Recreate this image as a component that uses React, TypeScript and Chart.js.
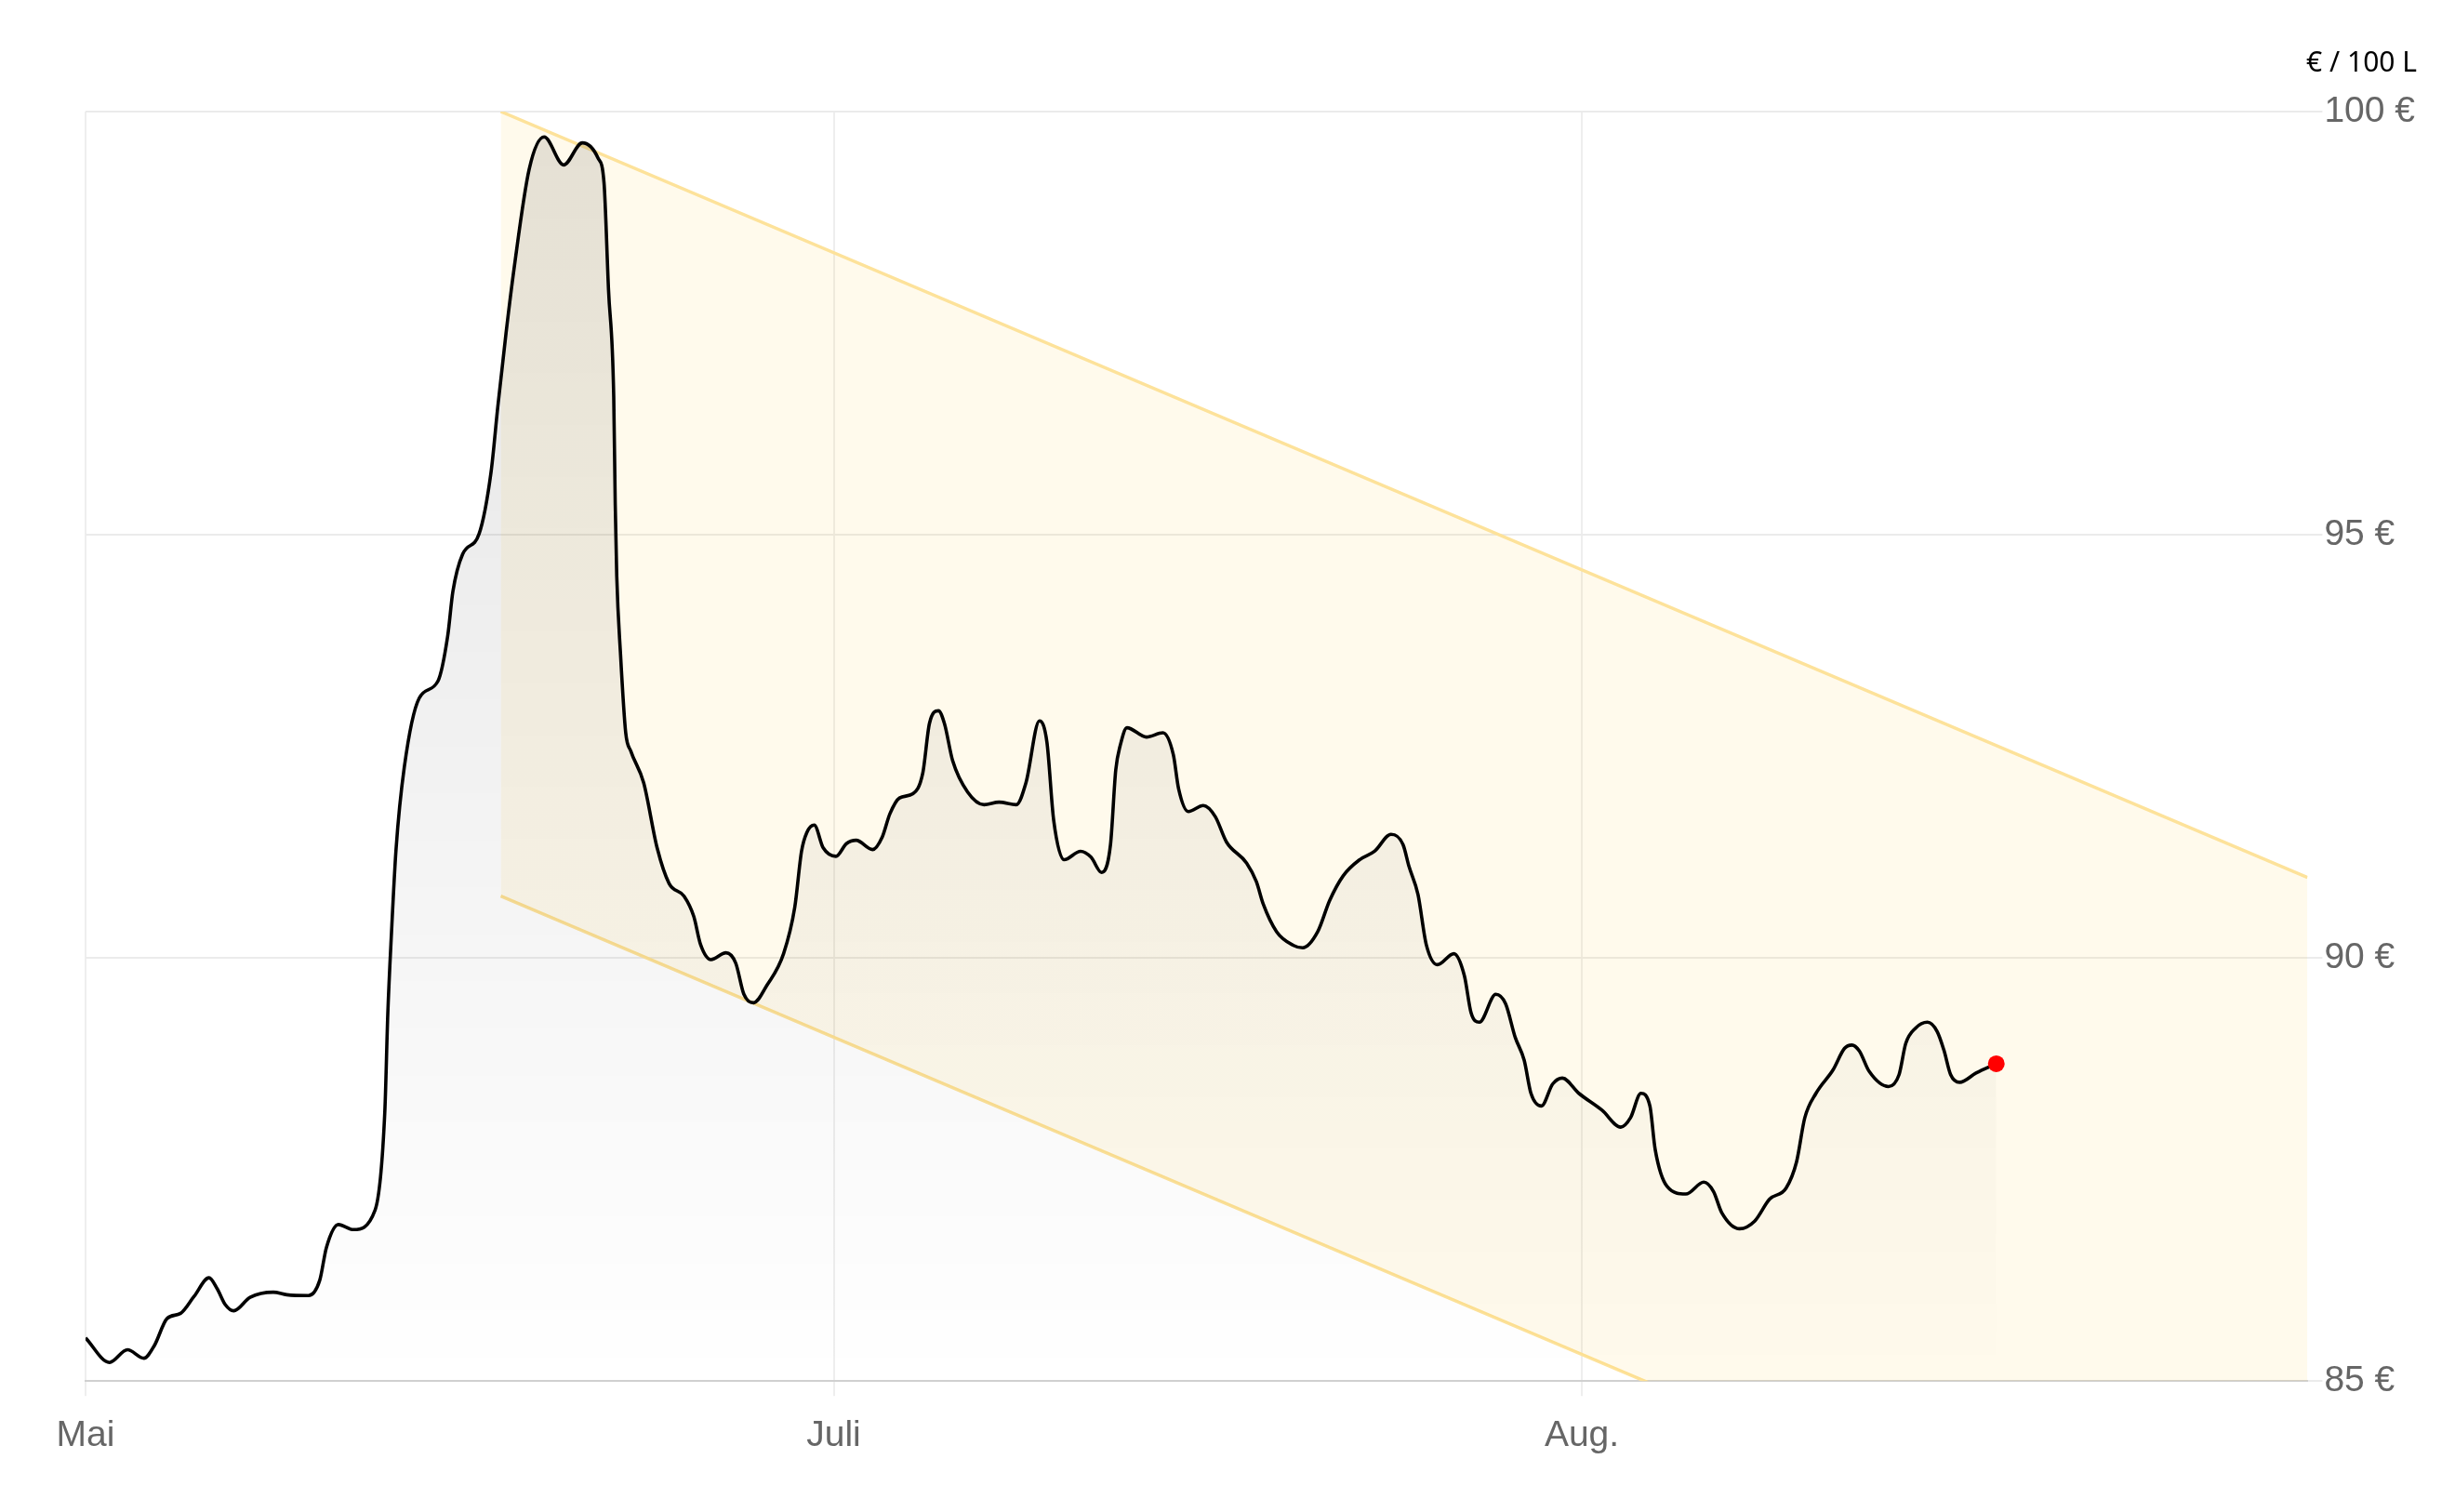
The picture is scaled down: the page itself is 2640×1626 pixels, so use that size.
import React, { useEffect, useRef } from "react";
import { Chart, registerables } from "chart.js";

Chart.register(...registerables);

// x positions on the axis (Mai = 0, Juli = 100, Aug. = 200)
const dayPos = [
  0.0, 3.2, 5.6, 7.8, 9.2, 10.9, 12.7, 14.5, 16.5, 17.6, 18.7, 19.8, 22.0, 25.1, 26.9, 29.8,
  31.3, 32.2, 33.8, 35.8, 38.7, 40.0, 40.4, 40.9, 41.5, 42.6, 44.6, 47.1, 48.4, 49.1, 50.4,
  52.6, 54.2, 55.1, 56.2, 57.3, 59.3, 61.3, 63.9, 66.4, 68.5, 69.3, 69.9, 70.6, 70.8, 71.0,
  71.5, 72.2, 72.9, 74.6, 76.4, 78.0, 80.0, 81.3, 82.2, 83.6, 85.6, 86.9, 88.0, 89.3, 91.1,
  93.3, 94.8, 95.7, 96.4, 97.4, 98.6, 100.3, 101.7, 103.0, 105.2, 106.5, 107.5, 108.8, 110.6,
  111.9, 112.8, 114.0, 114.8, 115.9, 117.9, 120.1, 122.1, 124.4, 125.7, 127.5, 128.5, 129.4,
  130.8, 133.0, 134.4, 135.8, 137.0, 137.7, 138.3, 139.2, 141.8, 144.0, 145.4, 146.1, 147.4,
  149.4, 151.0, 152.5, 155.2, 156.5, 157.4, 159.2, 161.4, 162.7, 164.7, 166.3, 168.1, 170.3,
  172.3, 174.5, 176.1, 176.9, 178.1, 179.2, 180.7, 182.9, 184.3, 185.2, 186.3, 188.5, 189.8,
  191.1, 192.3, 193.2, 194.6, 196.1, 197.4, 199.6, 202.7, 205.2, 206.5, 207.9, 209.1, 209.8,
  211.4, 213.9, 216.3, 217.6, 218.7, 221.1, 223.1, 225.1, 227.3, 228.7, 229.8, 231.3, 233.6,
  235.1, 236.1, 237.1, 238.4, 241.0, 242.4, 243.3, 244.6, 246.2, 247.5, 248.4, 249.3, 250.5,
  252.7, 255.4,
];

// € per 100 L
const pricePerHundredLitres = [
  85.51, 85.22, 85.37, 85.27, 85.42, 85.74, 85.8, 86.0, 86.22, 86.09, 85.9, 85.83, 85.99, 86.05,
  86.02, 86.01, 86.19, 86.58, 86.85, 86.79, 87.02, 88.18, 89.34, 90.31, 91.28, 92.25, 93.07,
  93.27, 93.8, 94.33, 94.77, 95.01, 95.74, 96.51, 97.38, 98.16, 99.32, 99.7, 99.37, 99.63, 99.45,
  99.16, 97.9, 96.63, 95.36, 94.52, 93.6, 92.66, 92.44, 92.07, 91.3, 90.88, 90.73, 90.49, 90.16,
  89.98, 90.06, 89.94, 89.57, 89.47, 89.68, 90.05, 90.6, 91.26, 91.48, 91.57, 91.3, 91.2, 91.35,
  91.39, 91.28, 91.43, 91.7, 91.89, 91.94, 92.18, 92.77, 92.92, 92.77, 92.33, 91.96, 91.81,
  91.84, 91.81, 92.07, 92.8, 92.55, 91.63, 91.16, 91.26, 91.19, 91.01, 91.34, 92.22, 92.51,
  92.72, 92.61, 92.66, 92.4, 92.0, 91.73, 91.8, 91.67, 91.37, 91.12, 90.9, 90.64, 90.31, 90.15,
  90.12, 90.31, 90.68, 90.97, 91.16, 91.26, 91.46, 91.34, 91.08, 90.75, 90.16, 89.92, 90.05,
  89.79, 89.35, 89.24, 89.57, 89.46, 89.06, 88.79, 88.4, 88.25, 88.51, 88.58, 88.4, 88.2, 88.0,
  88.11, 88.4, 88.25, 87.74, 87.3, 87.21, 87.35, 87.24, 86.99, 86.8, 86.89, 87.15, 87.28, 87.59,
  88.11, 88.4, 88.68, 88.93, 88.97, 88.9, 88.66, 88.48, 88.62, 88.99, 89.17, 89.24, 89.13, 88.91,
  88.62, 88.53, 88.64, 88.75,
];

// trend channel
const channelX = [55.5, 297];
const channelUpper = [100.0, 90.95];
const channelLower = [90.73, 81.68];

const xTickPositions = [0, 100, 200];
const xTickLabels = ["Mai", "Juli", "Aug."];
const yTickValues = [85, 90, 95, 100];
const unitLabel = "€ / 100 L";

const X_MIN = 0;
const X_MAX = 297;
const Y_MIN = 85;
const Y_MAX = 100;

const unitTitlePlugin = {
  id: "unitTitle",
  afterDraw(chart: any) {
    const { ctx } = chart;
    const yScale = chart.scales.y;
    ctx.save();
    ctx.font = "30px 'Noto Sans', sans-serif";
    ctx.fillStyle = "#000";
    ctx.textAlign = "right";
    ctx.textBaseline = "middle";
    ctx.fillText(unitLabel, yScale.right, chart.chartArea.top - 52);
    ctx.restore();
  },
};

export default function App() {
  const canvasRef = useRef<HTMLCanvasElement | null>(null);

  useEffect(() => {
    if (!canvasRef.current) return;
    const lineData = dayPos.map((x, i) => ({ x, y: pricePerHundredLitres[i] }));
    const upperData = channelX.map((x, i) => ({ x, y: channelUpper[i] }));
    const lowerData = channelX.map((x, i) => ({ x, y: channelLower[i] }));
    const lastIndex = lineData.length - 1;
    const tickFont = { family: "'Liberation Sans', Arial, sans-serif", size: 39 };

    const chart = new Chart(canvasRef.current, {
      type: "line",
      data: {
        datasets: [
          {
            data: lineData,
            borderColor: "#000",
            borderWidth: 3.6,
            cubicInterpolationMode: "monotone",
            fill: "start",
            backgroundColor: (c: any) => {
              const area = c.chart.chartArea;
              if (!area) return "rgba(0,0,0,0.05)";
              const g = c.chart.ctx.createLinearGradient(0, area.top, 0, area.bottom);
              g.addColorStop(0, "rgba(0,0,0,0.105)");
              g.addColorStop(1, "rgba(0,0,0,0)");
              return g;
            },
            pointRadius: (c: any) => (c.dataIndex === lastIndex ? 9 : 0),
            pointHoverRadius: (c: any) => (c.dataIndex === lastIndex ? 9 : 0),
            pointBackgroundColor: "#ff0000",
            pointBorderWidth: 0,
            order: 0,
          } as any,
          {
            data: upperData,
            borderColor: "#fde29a",
            borderWidth: 3.5,
            pointRadius: 0,
            fill: "+1",
            backgroundColor: "rgba(255, 205, 40, 0.09)",
            order: 1,
          },
          {
            data: lowerData,
            borderColor: "#fde29a",
            borderWidth: 3.5,
            pointRadius: 0,
            fill: false,
            order: 2,
          },
        ],
      },
      options: {
        animation: false,
        responsive: true,
        maintainAspectRatio: false,
        layout: { padding: { left: 84, right: 33, top: 112, bottom: 30 } },
        plugins: {
          legend: { display: false },
          tooltip: { enabled: false },
          title: { display: false },
        },
        events: [],
        scales: {
          x: {
            type: "linear",
            min: X_MIN,
            max: X_MAX,
            afterBuildTicks: (scale: any) => {
              scale.ticks = xTickPositions.map((v) => ({ value: v }));
            },
            ticks: {
              callback: (v: any) => {
                const i = xTickPositions.indexOf(Number(v));
                return i >= 0 ? xTickLabels[i] : "";
              },
              font: tickFont,
              color: "#666",
              padding: 20,
              maxRotation: 0,
              autoSkip: false,
            },
            grid: { color: "#eeeeee", lineWidth: 2, tickLength: 16 },
            border: { display: true, color: "#d0d0d0", width: 2 },
          },
          y: {
            type: "linear",
            position: "right",
            min: Y_MIN,
            max: Y_MAX,
            afterBuildTicks: (scale: any) => {
              scale.ticks = yTickValues.map((v) => ({ value: v }));
            },
            ticks: {
              callback: (v: any) => `${v} €`,
              font: tickFont,
              color: "#666",
              padding: 2,
            },
            grid: { color: "#ebebeb", lineWidth: 2, tickLength: 16 },
            border: { display: false },
          },
        },
      } as any,
      plugins: [unitTitlePlugin],
    });
    return () => chart.destroy();
  }, []);

  return (
    <div style={{ width: "2624px", height: "1610px", position: "relative" }}>
      <canvas ref={canvasRef} />
    </div>
  );
}
